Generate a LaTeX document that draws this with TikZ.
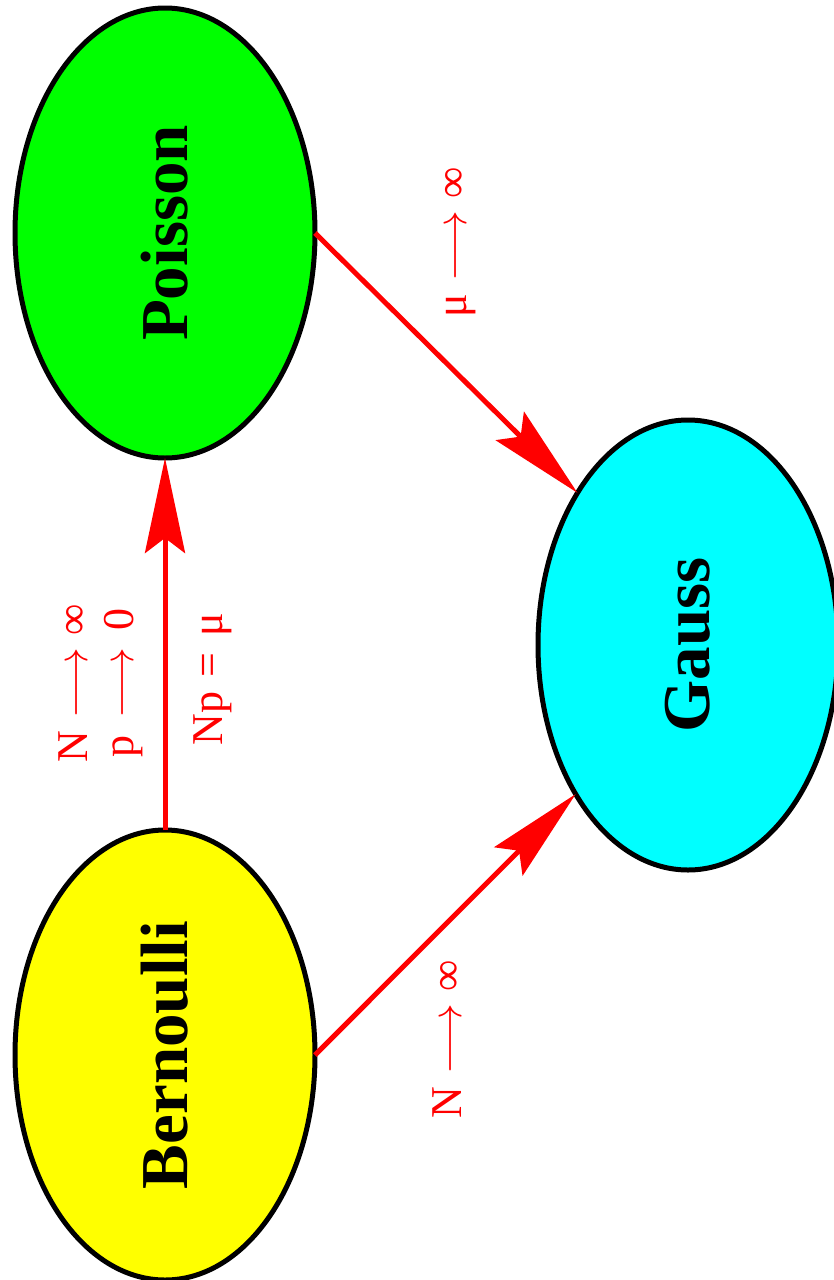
\documentclass[tikz,border=0pt]{standalone}
\usepackage{fontspec}
\setmainfont{Liberation Serif}
\usetikzlibrary{shapes.geometric,arrows.meta}
\definecolor{cyanfill}{RGB}{0,255,255}
\definecolor{yellowfill}{RGB}{255,255,0}
\definecolor{greenfill}{RGB}{0,255,0}
\definecolor{redline}{RGB}{255,0,0}
\begin{document}
\begin{tikzpicture}[x=1pt,y=-1pt,
  blob/.style={ellipse, draw=black, line width=5pt, minimum width=450pt, minimum height=300pt,
    inner sep=0pt, outer sep=0pt, rotate=90, font=\fontsize{67}{80}\selectfont\bfseries},
  conn/.style={draw=redline, line width=5pt, -{Stealth[length=95pt,width=40pt,inset=15pt]}},
  lbl/.style={text=redline, rotate=90, scale=2.12, inner sep=0pt, anchor=base west,
    font=\fontsize{20.74}{24}\selectfont}]
\useasboundingbox (0,0) rectangle (834,1280);
\node[blob, fill=yellowfill] (B) at (165,1055) {Bernoulli};
\node[blob, fill=greenfill] (P) at (165,233) {Poisson};
\node[blob, fill=cyanfill] (G) at (688,645) {Gauss};
\draw[conn] (B) -- (P);
\draw[conn] (P.south) -- (G.36.6);
\draw[conn] (B.south) -- (G.143.4);
\node[lbl] (l1) at (87,763) {N$\;\longrightarrow\;$∞};
\node[lbl] (l2) at (133,763) {\makebox[0.722em]{p}$\;\longrightarrow\;$\makebox[0.713em]{0}};
\node[lbl] (l3) at (222,746) {Np\hspace{0.32em}=\hspace{0.38em}μ};
\node[lbl] (l4) at (466,318) {μ$\;\longrightarrow\;$∞};
\node[lbl] (l5) at (461,1119) {N$\;\longrightarrow\;$∞};
\end{tikzpicture}
\end{document}
